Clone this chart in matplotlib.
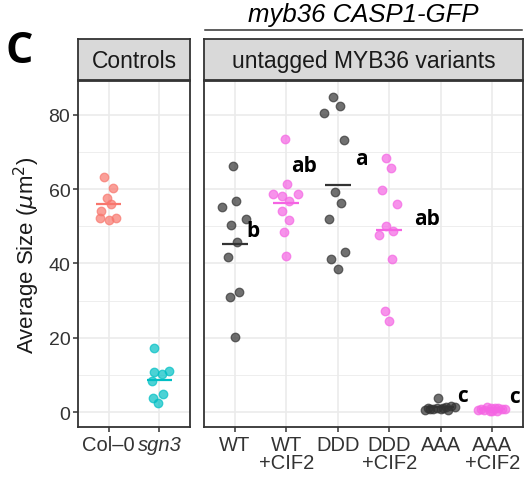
import matplotlib
matplotlib.use('Agg')
import numpy as np
import matplotlib.pyplot as plt

plt.rcParams['font.family'] = ['Liberation Sans', 'DejaVu Sans']

"""values read off the figure (average size, um^2)"""
ctrl_labels = ['Col\u20130', 'sgn3']
col0 = [63.2, 60.2, 57.6, 56.1, 54.0, 52.2, 51.8, 52.2]
sgn3 = [17.3, 10.8, 10.2, 11.0, 8.3, 4.8, 3.9, 2.3]

var_labels = ['WT', 'WT\n+CIF2', 'DDD', 'DDD\n+CIF2', 'AAA', 'AAA\n+CIF2']
wt = [66.3, 56.8, 55.1, 51.9, 50.3, 45.7, 41.8, 32.2, 30.9, 20.3]
wt_cif2 = [73.5, 61.3, 58.8, 58.3, 58.7, 56.7, 54.1, 51.7, 48.5, 41.9]
ddd = [84.9, 82.3, 80.6, 73.2, 59.2, 56.2, 52.1, 43.1, 41.1, 38.4]
ddd_cif2 = [68.5, 65.7, 59.7, 55.9, 50.2, 48.8, 47.6, 41.3, 27.1, 24.5]
aaa = [3.8, 1.6, 1.2, 1.4, 0.9, 1.0, 0.6, 1.3, 0.8, 1.1, 0.5, 0.9]
aaa_cif2 = [1.4, 1.2, 0.9, 1.0, 0.5, 0.7, 0.3, 0.8, 0.4, 0.6, 0.2, 1.1]

"""horizontal jitter of each dot, as read from the picture"""
col0_jit = [-0.09, 0.08, -0.04, 0.04, -0.15, -0.16, 0.0, 0.15]
sgn3_jit = [-0.11, -0.10, 0.05, 0.19, -0.15, 0.07, -0.13, -0.03]
wt_jit = [-0.04, 0.03, -0.25, 0.21, -0.08, 0.05, -0.13, 0.08, -0.10, 0.0]
wt_cif2_jit = [-0.03, 0.01, -0.26, -0.08, 0.22, 0.06, -0.09, 0.05, -0.04, -0.01]
ddd_jit = [-0.10, 0.04, -0.26, 0.12, -0.06, 0.07, -0.18, 0.14, -0.14, 0.0]
ddd_cif2_jit = [-0.06, 0.03, -0.15, 0.15, -0.07, 0.08, -0.19, 0.06, -0.08, 0.0]
aaa_jit = [-0.05, 0.20, -0.25, 0.10, -0.15, 0.05, -0.30, 0.27, 0.0, -0.08, 0.15, -0.20]
aaa_cif2_jit = [-0.10, 0.12, -0.22, 0.05, -0.28, 0.20, -0.05, 0.25, 0.10, -0.15, 0.0, -0.02]

"""significance letters"""
sig_letters = ['b', 'ab', 'a', 'ab', 'c', 'c']

"""colours"""
c_col0 = '#F8766D'
c_sgn3 = '#00BFC4'
c_dark = '#333333'
c_pink = '#F564E3'

ctrl_groups = [(col0, col0_jit, c_col0), (sgn3, sgn3_jit, c_sgn3)]
var_groups = [(wt, wt_jit, c_dark), (wt_cif2, wt_cif2_jit, c_pink),
              (ddd, ddd_jit, c_dark), (ddd_cif2, ddd_cif2_jit, c_pink),
              (aaa, aaa_jit, c_dark), (aaa_cif2, aaa_cif2_jit, c_pink)]

"""shared y range like ggplot (5% expansion)"""
allv = np.concatenate([np.array(g[0]) for g in ctrl_groups + var_groups])
lo, hi = allv.min(), allv.max()
pad = 0.05 * (hi - lo)
ylim = (lo - pad, hi + pad)

W, H = 527, 485
fig = plt.figure(figsize=(W / 100, H / 100), dpi=100)

def fx(px):
    return px / W

def fy(py):
    return 1 - py / H

panel_top, panel_bot = 82, 428
ax1 = fig.add_axes([fx(78), fy(panel_bot), fx(190 - 78), (panel_bot - panel_top) / H])
ax2 = fig.add_axes([fx(204), fy(panel_bot), fx(523 - 204), (panel_bot - panel_top) / H])


def draw_panel(ax, groups, labels):
    for i, (vals, jit, col) in enumerate(groups):
        x = i + np.array(jit)
        ax.scatter(x, vals, s=38, color=col, alpha=0.7, edgecolors=col,
                   linewidths=0.9, zorder=3)
        m = np.mean(vals)
        ax.plot([i - 0.25, i + 0.25], [m, m], color=col, lw=1.6,
                solid_capstyle='butt', zorder=4)
    ax.set_xlim(-0.6, len(groups) - 0.4)
    ax.set_ylim(*ylim)
    ax.set_xticks(range(len(groups)))
    ax.set_xticklabels(labels, fontsize=14.5, color='#333333', linespacing=0.95)
    ax.set_yticks([0, 20, 40, 60, 80])
    ax.set_yticks([10, 30, 50, 70], minor=True)
    ax.grid(True, which='major', color='#EBEBEB', lw=1.2, zorder=0)
    ax.grid(True, which='minor', axis='y', color='#EBEBEB', lw=0.6, zorder=0)
    ax.set_axisbelow(True)
    for s in ax.spines.values():
        s.set_color('#333333')
        s.set_linewidth(1.3)
    ax.tick_params(axis='both', which='major', length=3.5, width=1.1,
                   color='#333333', labelcolor='#333333', pad=2)
    ax.tick_params(axis='y', which='major', labelsize=14)
    ax.tick_params(axis='y', which='minor', length=0)


draw_panel(ax1, ctrl_groups, ctrl_labels)
draw_panel(ax2, var_groups, var_labels)
ax1.get_xticklabels()[1].set_fontstyle('italic')
ax2.tick_params(axis='y', which='both', left=False, labelleft=False)
ax1.set_ylabel('Average Size ($\\mu$m$^2$)', fontsize=16, labelpad=5,
               color='#1A1A1A')

"""significance letters next to each group"""
let_x = [0.35, 1.35, 2.46, 3.73, 4.43, 5.43]
let_y = [49.0, 66.3, 68.3, 52.0, 4.4, 4.2]
for lx, ly, t in zip(let_x, let_y, sig_letters):
    ax2.text(lx, ly, t, fontsize=15, fontweight='bold', family='Open Sans',
             ha='center', va='center', zorder=5)

"""facet strips"""
for left, right, txt in [(78, 190, 'Controls'), (204, 523, 'untagged MYB36 variants')]:
    sa = fig.add_axes([fx(left), fy(81), fx(right - left), 41 / H])
    sa.set_facecolor('#D9D9D9')
    sa.set_xticks([])
    sa.set_yticks([])
    for s in sa.spines.values():
        s.set_color('#333333')
        s.set_linewidth(1.3)
    sa.text(0.5, 0.48, txt, fontsize=16.5, color='#1A1A1A', ha='center',
            va='center', transform=sa.transAxes)

"""genotype header and panel letter"""
fig.text(fx(363), fy(15), 'myb36 CASP1-GFP', fontsize=18.5, style='italic',
         ha='center', va='center')
fig.add_artist(plt.Line2D([fx(205), fx(522)], [fy(31), fy(31)], color='#333333', lw=1.1))
fig.text(fx(6), fy(52), 'C', fontsize=31, fontweight='bold', family='Open Sans',
         ha='left', va='center')

fig.savefig('out.png', dpi=100)
